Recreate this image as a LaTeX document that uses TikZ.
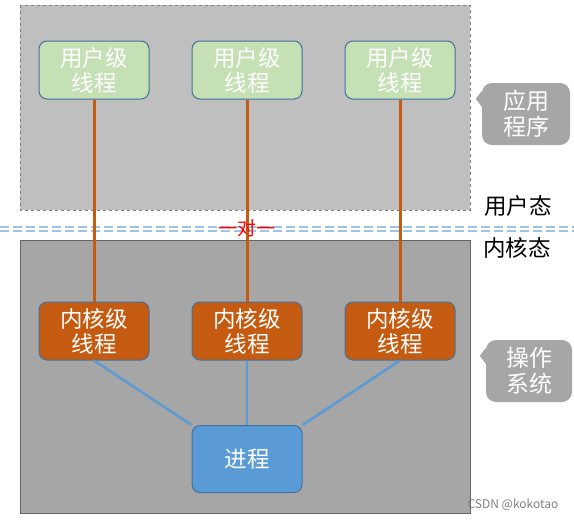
\documentclass[tikz,border=0pt]{standalone}
\usepackage{fontspec}
\setmainfont{Noto Sans CJK SC}
\usepackage{tikz}
\usepackage{xcolor}
\definecolor{usergreen}{HTML}{C5E0B4}
\definecolor{kernelorange}{HTML}{C55A11}
\definecolor{procblue}{HTML}{5B9BD5}
\definecolor{boxline}{HTML}{41719C}
\definecolor{toparea}{HTML}{BFBFBF}
\definecolor{lowarea}{HTML}{A6A6A6}
\definecolor{sepblue}{HTML}{9DC3E6}

\begin{document}
\begin{tikzpicture}[x=1pt,y=-1pt,
	thread/.style={draw=boxline,line width=1pt,rounded corners=8pt,minimum width=110pt,
		minimum height=58pt,text=white,align=center,inner sep=0pt,
		font=\fontsize{22.5}{25}\selectfont},
	note/.style={fill=lowarea,rounded corners=10pt,minimum width=88pt,minimum height=62pt,
		text=white,align=center,inner sep=0pt,font=\fontsize{23}{26}\selectfont},
	modelabel/.style={font=\fontsize{22.5}{24}\selectfont,inner sep=0pt}]
	\useasboundingbox (0,0) rectangle (574,520);
	% areas
	\draw [gray, dashed, fill=toparea] (20,5) rectangle (470,210);
	\draw [gray!80!black, line width=1pt, fill=lowarea] (20,240) rectangle (470,513);
	% separator
	\draw [sepblue, line width=1.2pt, dash pattern=on 9pt off 4pt] (0,227) -- (574,227);
	\draw [sepblue, line width=1.2pt, dash pattern=on 9pt off 4pt] (0,231) -- (574,231);
	% threads
	\node [thread, fill=usergreen] (u1) at (94,70) {用户级\\线程};
	\node [thread, fill=usergreen] (u2) at (247,70) {用户级\\线程};
	\node [thread, fill=usergreen] (u3) at (400,70) {用户级\\线程};
	\node [thread, fill=kernelorange] (k1) at (94,331) {内核级\\线程};
	\node [thread, fill=kernelorange] (k2) at (247,331) {内核级\\线程};
	\node [thread, fill=kernelorange] (k3) at (400,331) {内核级\\线程};
	\node [thread, fill=procblue, minimum height=67pt] (p) at (247,459) {进程};
	% one to one
	\draw [kernelorange, line width=3pt] (u1) -- (k1);
	\draw [kernelorange, line width=3pt] (u2) -- (k2);
	\draw [kernelorange, line width=3pt] (u3) -- (k3);
	\draw [procblue, line width=2.5pt] (k1.south) -- (p.north west);
	\draw [procblue, line width=2.5pt] (k2.south) -- (p.north);
	\draw [procblue, line width=2.5pt] (k3.south) -- (p.north east);
	\node [red, font=\fontsize{19}{19}\selectfont, inner sep=0pt] (ratio) at (247,228) {一对一};
	% mode labels
	\node [modelabel] (umode) at (518,206) {用户态};
	\node [modelabel] (kmode) at (517,248) {内核态};
	% callouts
	\node [note] (app) at (526,114) {应用\\程序};
	\fill [lowarea] ([yshift=-8pt]app.north west) -- +(-6,8) -- +(0,16) -- cycle;
	\node [note, minimum width=86pt] (os) at (529,371) {操作\\系统};
	\fill [lowarea] ([yshift=-8pt]os.north west) -- +(-6,8) -- +(0,16) -- cycle;
	\node [gray, font=\fontsize{12}{12}\selectfont, inner sep=0pt] (mark) at (513,505) {CSDN @kokotao};
\end{tikzpicture}
\end{document}
